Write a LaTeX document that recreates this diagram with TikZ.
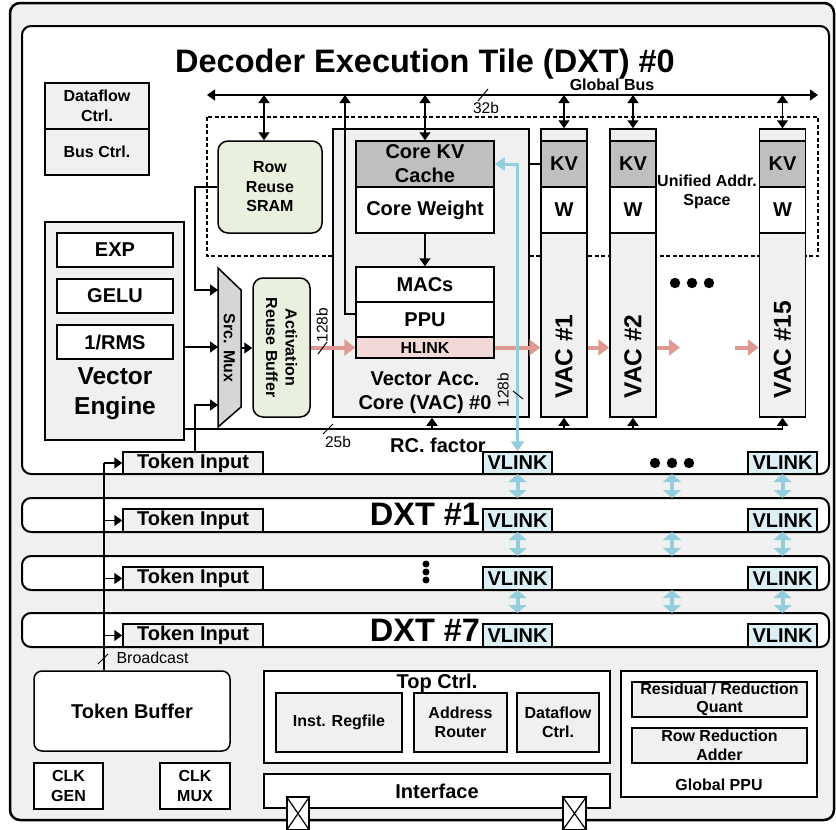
\documentclass[tikz,border=0pt]{standalone}
\usepackage{fontspec}
\setmainfont{Liberation Sans}
\usetikzlibrary{arrows.meta,calc}
\definecolor{lgray}{HTML}{F0F0F0}
\definecolor{dgray}{HTML}{BFBFBF}
\definecolor{muxgray}{HTML}{D6D6D6}
\definecolor{lgreen}{HTML}{E9F0DD}
\definecolor{hpink}{HTML}{F2D8D6}
\definecolor{apink}{HTML}{DE9A92}
\definecolor{ablue}{HTML}{92CEDD}
\definecolor{vblue}{HTML}{DCEFF5}
\tikzset{
 box/.style={draw=black, line width=1.5pt, inner sep=0pt, align=center},
 fL/.style={font=\fontsize{32.5}{34}\selectfont\bfseries},
 fV/.style={font=\fontsize{24.5}{30}\selectfont\bfseries},
 fM/.style={font=\fontsize{20}{24}\selectfont\bfseries},
 fS/.style={font=\fontsize{16}{19.5}\selectfont\bfseries, align=center},
 fR/.style={font=\fontsize{15.5}{18}\selectfont},
 arr/.style={-{Triangle[length=8pt,width=11pt]}, line width=1.5pt},
 darr/.style={{Triangle[length=8pt,width=11pt]}-{Triangle[length=8pt,width=11pt]}, line width=1.5pt},
 parr/.style={-{Triangle[length=11pt,width=16pt]}, line width=4pt, draw=apink},
 barr/.style={{Triangle[length=8pt,width=18pt]}-{Triangle[length=8pt,width=18pt]}, line width=4pt, draw=ablue},
 vbarr/.style={{Triangle[length=10pt,width=13pt]}-{Triangle[length=10pt,width=13pt]}, line width=3pt, draw=ablue},
 tile/.style={line width=2pt, fill=white, rounded corners=9pt},
 slash/.style={line width=1pt},
 dot/.style={fill=black},
}
\begin{document}
\begin{tikzpicture}[x=1pt,y=-1pt]
\useasboundingbox (0,0) rectangle (836,830);
\fill[white] (0,0) rectangle (836,830);
% outer frame and tiles
\draw[line width=2.5pt, fill=lgray, rounded corners=10pt] (10,3) rectangle (834,820);
\draw[tile] (22,26) rectangle (829,474);
\draw[tile] (22,498) rectangle (829,532);
\draw[tile] (22,556) rectangle (829,590);
\draw[tile] (22,613) rectangle (829,647);

% title
\node[fL, anchor=base] (title) at (425,72) {Decoder Execution Tile (DXT) \#0};

% unified address space
\draw[line width=1.3pt, dash pattern=on 4pt off 2.5pt] (207,117) rectangle (818,256);
\node[fS] (uas) at (707,192) {Unified Addr.\\Space};

% global bus
\coordinate (gbL) at (207,95);
\coordinate (gbR) at (818,95);
\draw[darr] (gbL) -- (gbR);
\node[fS] (gbus) at (612,85) {Global Bus};
\draw[slash] (478,101) -- (488,89);
\node[fR] (b32) at (486,108) {32b};

% ctrl boxes
\node[box, fill=lgray, fS, minimum width=104pt, minimum height=46pt] (dfc) at (97,106) {Dataflow\\Ctrl.};
\node[box, fill=lgray, fS, minimum width=104pt, minimum height=46pt] (busc) at (97,152) {Bus Ctrl.};

% row reuse SRAM
\node[box, fill=lgreen, rounded corners=10pt, fS, minimum width=104pt, minimum height=92pt] (rrs) at (270,187) {Row\\Reuse\\SRAM};

% vector engine
\node[box, fill=lgray, minimum width=139pt, minimum height=218pt] (ve) at (114.5,331) {};
\node[box, fill=white, fM, minimum width=116pt, minimum height=34pt] (exp) at (115,250) {EXP};
\node[box, fill=white, fM, minimum width=116pt, minimum height=34pt] (gelu) at (115,296) {GELU};
\node[box, fill=white, fM, minimum width=116pt, minimum height=34pt] (rms) at (115,342) {1/RMS};
\node[fV, align=center] (vetxt) at (115,394) {Vector\\Engine};

% src mux
\draw[line width=1.5pt, fill=muxgray] (218,268) -- (241,290) -- (241,407) -- (218,427) -- cycle;
\node[fS, rotate=-90] (mux) at (229.5,348) {Src. Mux};
\coordinate (muxin1) at (218,290);
\coordinate (muxin2) at (218,347);
\coordinate (muxin3) at (218,405);
\coordinate (muxout) at (241,348);

% activation reuse buffer
\node[box, fill=lgreen, rounded corners=10pt, minimum width=57pt, minimum height=139pt] (arb) at (281.5,347.5) {};
\node[fS, rotate=-90] (arbtxt) at (arb.center) {Activation\\Reuse Buffer};

% VAC0
\node[box, fill=lgray, minimum width=196pt, minimum height=288pt] (vac0) at (431,273) {};
\node[box, fill=dgray, fM, align=center, minimum width=138pt, minimum height=46pt] (ckv) at (425,164) {Core KV\\Cache};
\node[box, fill=white, fM, minimum width=138pt, minimum height=46pt] (cw) at (425,210) {Core Weight};
\node[box, fill=white, fM, minimum width=138pt, minimum height=35pt] (macs) at (425,284.5) {MACs};
\node[box, fill=white, fM, minimum width=138pt, minimum height=35pt] (ppu) at (425,319.5) {PPU};
\node[box, fill=hpink, font=\fontsize{16}{18}\selectfont\bfseries, minimum width=138pt, minimum height=21pt] (hlink) at (425,347.5) {HLINK};
\node[fM, align=center] (vac0txt) at (425,393) {Vector Acc.\\Core (VAC) \#0};

% VAC columns
\foreach \n/\x in {1/564,2/633,15/782.5}{
  \node[box, fill=lgray, minimum width=46pt, minimum height=288pt] (vac\n) at (\x,273) {};
  \node[box, fill=dgray, fM, minimum width=46pt, minimum height=46pt] (kv\n) at (\x,164) {KV};
  \node[box, fill=white, fM, minimum width=46pt, minimum height=46pt] (w\n) at (\x,210) {W};
  \node[fV, rotate=90, anchor=west] (vacl\n) at (\x,402) {VAC \#\n};
}

% bus connections
\coordinate (g1) at (264,95);
\coordinate (g2) at (425,95);
\coordinate (g0) at (345,95);
\draw[darr] (g1) -- (g1 |- rrs.north);
\draw[darr] (g2) -- (ckv.north);
\draw[darr] (gbL -| vac1.north) -- (vac1.north);
\draw[darr] (gbL -| vac2.north) -- (vac2.north);
\draw[darr] (gbL -| vac15.north) -- (vac15.north);
\draw[arr] ([yshift=5.5pt]ppu.west) -| (g0);
\draw[arr] (cw.south) -- (macs.north);
\draw[line width=1.5pt] (vac0.east |- ckv) -- (vac1.west |- ckv);

% mux inputs
\coordinate (j1) at (195,290);
\coordinate (j3) at (195,405);
\draw[arr] (rrs.west) -| (j1) -- (muxin1);
\draw[arr] (ve.east |- muxin2) -- (muxin2);
\draw[arr] (muxout) -- (arb.west |- muxout);

% pink HLINK chain
\coordinate (p1) at (680,347.5);
\coordinate (p2) at (735,347.5);
\draw[parr] (arb.east) -- (hlink.west);
\draw[parr] (hlink.east) -- (hlink.east -| vac1.west);
\draw[parr] (vac1.east |- hlink) -- (vac2.west |- hlink);
\draw[parr] (vac2.east |- hlink) -- (p1);
\draw[parr] (p2) -- (vac15.west |- hlink);
\draw[slash] (318,354) -- (327,342);
\node[fR, rotate=90] (l128a) at (322,325) {128b};

% dots
\foreach \x in {675,692,709}{\fill[dot] (\x,283) circle (5.2pt);}
\foreach \x in {655,672,689}{\fill[dot] (\x,463) circle (5.2pt);}
\foreach \y in {564,572,580}{\fill[dot] (426,\y) circle (3.5pt);}

% RC factor bus
\coordinate (rcL) at (184,429);
\coordinate (rcR) at (782.5,429);
\coordinate (r0) at (432,429);
\draw[line width=1.5pt] (rcL) -- (rcR);
\draw[arr] (r0) -- (r0 |- vac0.south);
\draw[arr] (vac1.south |- rcL) -- (vac1.south);
\draw[arr] (vac2.south |- rcL) -- (vac2.south);
\draw[arr] (vac15.south |- rcL) -- (vac15.south);
\draw[slash] (323,434) -- (333,424);
\node[fR] (l25) at (338,442) {25b};
\node[fM] (rcf) at (438,445) {RC. factor};

% token inputs and VLINKs
\foreach \r/\y/\h in {0/463/22,1/520.5/23,2/578.5/23,7/635.5/23}{
  \node[box, fill=lgray, fM, minimum width=140pt, minimum height=\h pt] (ti\r) at (193,\y) {Token Input};
  \node[box, fill=vblue, fM, minimum width=69pt, minimum height=\h pt] (vl\r) at (517.5,\y) {VLINK};
  \node[box, fill=vblue, fM, minimum width=69pt, minimum height=\h pt] (vr\r) at (782.5,\y) {VLINK};
}
\node[fL, anchor=base] (dxt1) at (425,525) {DXT \#1};
\node[fL, anchor=base] (dxt7) at (425,641) {DXT \#7};

% token input to mux
\draw[arr] (ti0.north -| j3) -- (j3) -- (muxin3);

% VLINK to core KV
\draw[vbarr] (ckv.east) -| (vl0.north);
\draw[slash] (513,391) -- (523,399);
\node[fR, rotate=90] (l128b) at (503,390) {128b};

% vertical blue links between tiles
\foreach \x in {517.5,672,782.5}{
  \draw[barr] (\x,474) -- (\x,498);
  \draw[barr] (\x,532) -- (\x,556);
  \draw[barr] (\x,590) -- (\x,613);
}

% bottom section
\node[box, fill=white, rounded corners=8pt, font=\fontsize{20}{24}\selectfont\bfseries, minimum width=196pt, minimum height=80pt] (tb) at (132,711) {Token Buffer};
\node[box, fill=white, fS, minimum width=69pt, minimum height=46pt] (clkg) at (68.5,786) {CLK\\GEN};
\node[box, fill=white, fS, minimum width=70pt, minimum height=46pt] (clkm) at (195,786) {CLK\\MUX};

% broadcast
\coordinate (bc) at (104,463);
\draw[line width=1.5pt] (tb.north -| bc) -- (bc);
\draw[arr] (bc) -- (ti0.west);
\draw[arr] (bc |- ti1) -- (ti1.west);
\draw[arr] (bc |- ti2) -- (ti2.west);
\draw[arr] (bc |- ti7) -- (ti7.west);
\draw[slash] (98,664) -- (108,654);
\node[fR, font=\fontsize{16}{18}\selectfont, anchor=west] (bcl) at (113,658) {Broadcast};

% top ctrl
\node[box, fill=white, minimum width=346pt, minimum height=92pt] (tc) at (437,717) {};
\node[fM, anchor=base] (tctxt) at (437,688) {Top Ctrl.};
\node[box, fill=lgray, fS, minimum width=126pt, minimum height=59pt] (irf) at (339,722.5) {Inst. Regfile};
\node[box, fill=lgray, fS, minimum width=93pt, minimum height=59pt] (ar) at (460.5,722.5) {Address\\Router};
\node[box, fill=lgray, fS, minimum width=82pt, minimum height=59pt] (dfc2) at (558,722.5) {Dataflow\\Ctrl.};

% interface
\node[box, fill=white, fM, minimum width=346pt, minimum height=34pt] (intf) at (437,791) {Interface};
\node[box, fill=white, minimum width=22pt, minimum height=33pt] (pad1) at (298,813.5) {};
\node[box, fill=white, minimum width=23pt, minimum height=33pt] (pad2) at (574.5,813.5) {};
\draw[line width=1.2pt] (pad1.north west) -- (pad1.south east) (pad1.north east) -- (pad1.south west);
\draw[line width=1.2pt] (pad2.north west) -- (pad2.south east) (pad2.north east) -- (pad2.south west);

% global PPU
\node[box, fill=white, minimum width=196pt, minimum height=126pt] (gppu) at (719,734) {};
\node[box, fill=lgray, font=\fontsize{16}{18.5}\selectfont\bfseries, minimum width=175pt, minimum height=35pt] (rrq) at (719.5,699.5) {Residual / Reduction\\Quant};
\node[box, fill=lgray, font=\fontsize{16}{18.5}\selectfont\bfseries, minimum width=175pt, minimum height=35pt] (rra) at (719.5,745.5) {Row Reduction\\Adder};
\node[fS] (gppul) at (719,785) {Global PPU};
\end{tikzpicture}
\end{document}
